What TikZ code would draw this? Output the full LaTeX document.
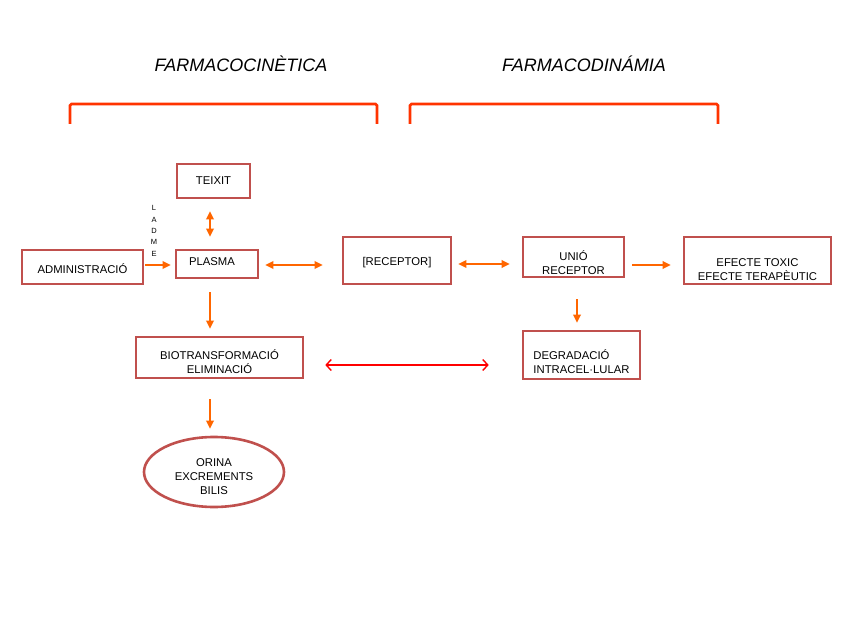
\documentclass[tikz,border=0pt]{standalone}
\usepackage{fontspec}
\setmainfont{Liberation Sans}
\usetikzlibrary{arrows.meta,shapes.geometric}
\definecolor{boxred}{RGB}{192,80,77}
\definecolor{arrorange}{RGB}{255,102,0}
\definecolor{brackred}{RGB}{255,51,0}
\begin{document}
\begin{tikzpicture}[x=1pt, y=-1pt,
    box/.style={draw=boxred, line width=2.6pt, fill=white, inner sep=2pt},
    txt/.style={align=center, inner sep=0pt, font=\fontsize{11.3}{14}\selectfont},
    flow/.style={-{Triangle[length=8pt,width=7.5pt]}, draw=arrorange, line width=1.8pt},
    dflow/.style={{Triangle[length=8pt,width=7.5pt]}-{Triangle[length=8pt,width=7.5pt]}, draw=arrorange, line width=1.8pt},
    exchange/.style={{Straight Barb[length=5pt,width=11pt]}-{Straight Barb[length=5pt,width=11pt]}, draw=red, line width=1.4pt},
    bracket/.style={draw=brackred, line width=2.6pt, rounded corners=1.5pt},
    title/.style={font=\fontsize{18}{20}\selectfont\itshape}]

    \useasboundingbox (0,0) rectangle (848,636);

    % Titles and brackets
    \node[title] (kin) at (241,64) {FARMACOCINÈTICA};
    \node[title] (din) at (584,64) {FARMACODINÁMIA};
    \draw[bracket] (70,124) -- (70,104) -- (377,104) -- (377,124);
    \draw[bracket] (410,124) -- (410,104) -- (718,104) -- (718,124);

    % Pharmacokinetics boxes
    \node[box, minimum width=73, minimum height=34, label={[txt]center:TEIXIT}] (teixit) at (213.5,181) {};
    \node[box, minimum width=121, minimum height=34, label={[txt, yshift=-1.5pt]center:ADMINISTRACIÓ}] (admin) at (82.5,267) {};
    \node[box, minimum width=82, minimum height=28, label={[txt, xshift=-5pt, yshift=2pt]center:PLASMA}] (plasma) at (217,264) {};
    \node[box, minimum width=167, minimum height=41, label={[txt, yshift=-4.5pt]center:BIOTRANSFORMACIÓ\\ELIMINACIÓ}] (bio) at (219.5,357.5) {};
    \node[box, ellipse, minimum width=140, minimum height=70, label={[txt, yshift=-5pt]center:ORINA\\EXCREMENTS\\BILIS}] (orina) at (214,472) {};
    \node[font=\fontsize{7.5}{11.3}\selectfont, align=center] (ladme) at (154,231) {L\\A\\D\\M\\E};

    % Pharmacodynamics boxes
    \node[box, minimum width=108, minimum height=47, label={[txt, yshift=-2.5pt]center:[RECEPTOR]}] (receptor) at (397,260.5) {};
    \node[box, minimum width=101, minimum height=40, label={[txt, yshift=-6pt]center:UNIÓ\\RECEPTOR}] (unio) at (573.5,257) {};
    \node[box, minimum width=147, minimum height=47, label={[txt, yshift=-9pt]center:EFECTE TOXIC\\EFECTE TERAPÈUTIC}] (efecte) at (757.5,260.5) {};
    \node[box, minimum width=117, minimum height=48, label={[txt, align=left, yshift=-7pt]center:DEGRADACIÓ\\INTRACEL·LULAR}] (degrad) at (581.5,355) {};

    % Arrows
    \draw[flow, shorten <=1pt, shorten >=4pt] ([yshift=2pt]admin.east) -- ([yshift=2pt]admin.east -| plasma.west);
    \draw[dflow, shorten <=12pt, shorten >=12pt] ([xshift=-3.5pt]teixit.south) -- ([xshift=-3.5pt]teixit.south |- plasma.north);
    \draw[dflow, shorten <=6pt, shorten >=19pt] ([yshift=-1pt]plasma.east) -- ([yshift=-1pt]plasma.east -| receptor.west);
    \draw[dflow, shorten <=6pt, shorten >=12pt] ([yshift=-3.5pt]receptor.east) -- ([yshift=-3.5pt]receptor.east -| unio.west);
    \draw[flow, shorten <=7pt, shorten >=12pt] ([yshift=-8pt]unio.east) -- ([yshift=-8pt]unio.east -| efecte.west);
    \draw[flow, shorten <=21pt, shorten >=7pt] ([xshift=3.5pt]unio.south) -- ([xshift=3.5pt]unio.south |- degrad.north);
    \draw[flow, shorten <=13pt, shorten >=7pt] ([xshift=-7pt]plasma.south) -- ([xshift=-7pt]plasma.south |- bio.north);
    \draw[flow, shorten <=20pt, shorten >=7pt] ([xshift=-9.5pt]bio.south) -- ([xshift=-9.5pt]bio.south |- orina.north);
    \draw[exchange, shorten <=21pt, shorten >=33pt] ([yshift=-7.5pt]bio.east) -- ([yshift=-7.5pt]bio.east -| degrad.west);

\end{tikzpicture}
\end{document}
